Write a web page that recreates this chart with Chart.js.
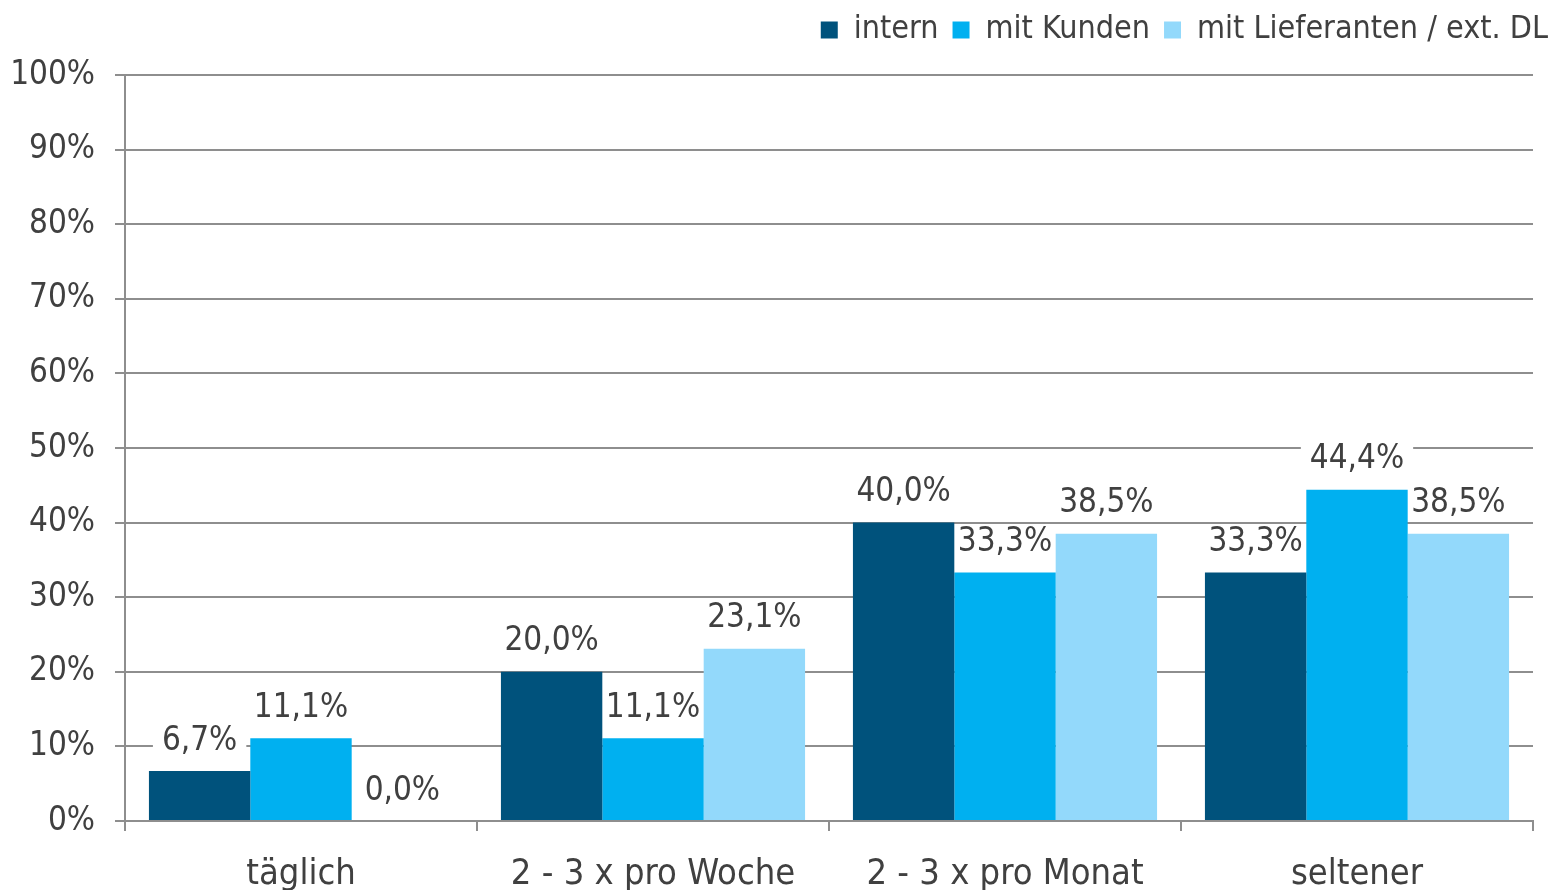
<!DOCTYPE html>
<html>
<head>
<meta charset="utf-8">
<script src="https://cdn.jsdelivr.net/npm/chart.js@4/dist/chart.umd.min.js"></script>
<style>
html,body{margin:0;padding:0;background:#fff;}
#wrap{width:1556px;height:890px;position:relative;}
</style>
</head>
<body>
<div id="wrap"><canvas id="c" width="1556" height="890"></canvas></div>
<script>
const categories = ['täglich', '2 - 3 x pro Woche', '2 - 3 x pro Monat', 'seltener'];
const seriesNames = ['intern', 'mit Kunden', 'mit Lieferanten / ext. DL'];
const internValues = [6.7, 20.0, 40.0, 33.3];
const kundenValues = [11.1, 11.1, 33.3, 44.4];
const lieferantenValues = [0.0, 23.1, 38.5, 38.5];
const yTicks = [0, 10, 20, 30, 40, 50, 60, 70, 80, 90, 100];

const FONT = '"DejaVu Sans Condensed", "DejaVu Sans", sans-serif';
const TEXT = '#404040';
const GRID = '#8e8e8e';
const colors = ['#00527c', '#00b0f0', '#93d9fb'];
const LABEL_SIZE = 33;

function fmt(v){ return v.toFixed(1).replace('.', ',') + '%'; }

const labelPlugin = {
  id: 'barLabels',
  afterLayout(chart){
    if (chart.legend) { chart.legend.right += 12; }
  },
  beforeDatasetsDraw(chart){
    const ctx = chart.ctx;
    ctx.save();
    ctx.font = LABEL_SIZE + 'px ' + FONT;
    chart.data.datasets.forEach((ds, i) => {
      const meta = chart.getDatasetMeta(i);
      meta.data.forEach((bar, j) => {
        const t = fmt(ds.data[j]);
        const w = ctx.measureText(t).width + 18;
        const cy = bar.y - 30;
        ctx.fillStyle = '#fff';
        ctx.fillRect(bar.x - w/2, cy - 18, w, 36);
      });
    });
    ctx.restore();
  },
  afterDatasetsDraw(chart){
    const ctx = chart.ctx;
    ctx.save();
    ctx.font = LABEL_SIZE + 'px ' + FONT;
    ctx.fillStyle = TEXT;
    ctx.textAlign = 'center';
    ctx.textBaseline = 'middle';
    chart.data.datasets.forEach((ds, i) => {
      const meta = chart.getDatasetMeta(i);
      meta.data.forEach((bar, j) => {
        ctx.fillText(fmt(ds.data[j]), bar.x, bar.y - 30);
      });
    });
    ctx.restore();
  }
};

new Chart(document.getElementById('c'), {
  type: 'bar',
  data: {
    labels: categories,
    datasets: [
      { label: seriesNames[0], data: internValues, backgroundColor: colors[0] },
      { label: seriesNames[1], data: kundenValues, backgroundColor: colors[1] },
      { label: seriesNames[2], data: lieferantenValues, backgroundColor: colors[2] }
    ]
  },
  options: {
    responsive: false,
    animation: false,
    devicePixelRatio: 1,
    layout: { padding: { top: 0, left: 12, right: 6, bottom: 0 } },
    datasets: { bar: { categoryPercentage: 0.864, barPercentage: 1.0, borderWidth: 0 } },
    plugins: {
      legend: {
        position: 'top', align: 'end',
        labels: { font: { family: FONT, size: 32 }, color: TEXT, boxWidth: 17, boxHeight: 17, padding: 14 }
      },
      tooltip: { enabled: false }
    },
    scales: {
      x: {
        grid: { display: true, drawOnChartArea: false, drawTicks: true, tickLength: 10, offset: true, color: GRID, lineWidth: 2 },
        border: { display: true, color: GRID, width: 2 },
        ticks: { font: { family: FONT, size: 36 }, color: TEXT, padding: 22, maxRotation: 0, autoSkip: false },
        afterFit(s){ s.height = 69; }
      },
      xTop: {
        type: 'category', position: 'top', display: true,
        grid: { display: false }, border: { display: false },
        ticks: { display: false },
        afterFit(s){ s.height = 19; }
      },
      y: {
        min: 0, max: 100,
        afterBuildTicks(scale){ scale.ticks = yTicks.map(v => ({ value: v })); },
        grid: { color: GRID, lineWidth: 2, tickLength: 10 },
        border: { display: true, color: GRID, width: 2 },
        ticks: { font: { family: FONT, size: 33 }, color: TEXT, padding: 20, callback: v => v + '%' },
        afterFit(s){ s.width = 113; }
      },
      yR: {
        position: 'right', display: true,
        grid: { display: false }, border: { display: false },
        ticks: { display: false },
        afterFit(s){ s.width = 17; }
      }
    }
  },
  plugins: [labelPlugin]
});
</script>
</body>
</html>
